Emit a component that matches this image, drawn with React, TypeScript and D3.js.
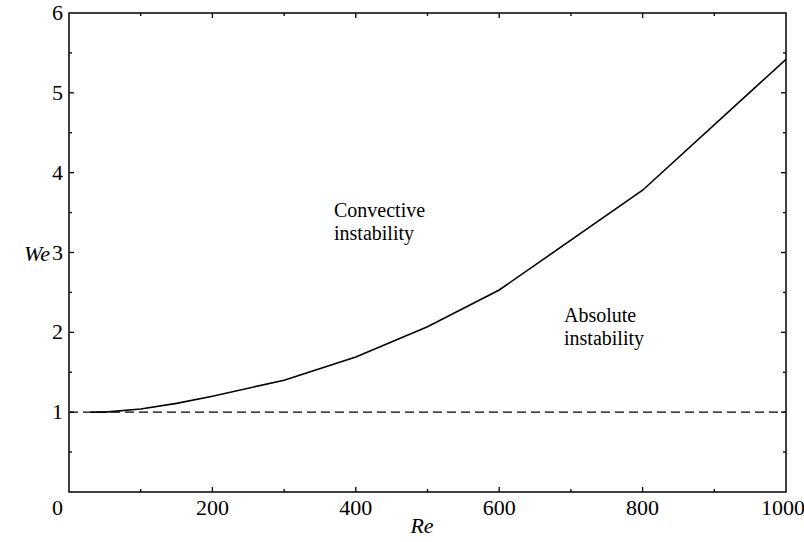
import React from "react";
import * as d3 from "d3";

const reValues = [30, 50, 100, 150, 200, 300, 400, 500, 600, 800, 1000];
const weValues = [1.0, 1.0, 1.04, 1.11, 1.2, 1.4, 1.69, 2.07, 2.53, 3.78, 5.42];
const xTickLabels = [0, 200, 400, 600, 800, 1000];
const yTickLabels = [1, 2, 3, 4, 5, 6];
const xMinorTicks = [100, 300, 500, 700, 900];
const yMinorTicks = [0.5, 1.5, 2.5, 3.5, 4.5, 5.5];
const referenceWe = 1;

export default function App() {
  const W = 804, H = 542;
  const left = 69, right = 786, top = 13, bottom = 492;
  const x = d3.scaleLinear().domain([0, 1000]).range([left, right]);
  const y = d3.scaleLinear().domain([0, 6]).range([bottom, top]);
  const line = d3.line<number>().x((_, i) => x(reValues[i])).y((d) => y(d));
  const major = 5, minor = 3;
  const xOffset = (v: number) => (v === 0 ? -11.5 : v === 1000 ? -3 : 0);
  const serif = "Liberation Serif";
  return (
    <svg width={W} height={H} style={{ position: "absolute", left: 0, top: 0, background: "#fff", fontFamily: serif }}>
      <rect x={left} y={top} width={right - left} height={bottom - top} fill="none" stroke="#000" strokeWidth={1.5} />
      {xTickLabels.concat(xMinorTicks).map((v) => {
        const len = xTickLabels.includes(v) ? major : minor;
        if (v === 0 || v === 1000) return null;
        return (
          <g key={"xt" + v}>
            <line x1={x(v)} x2={x(v)} y1={bottom} y2={bottom - len} stroke="#000" strokeWidth={1.3} />
            <line x1={x(v)} x2={x(v)} y1={top} y2={top + len} stroke="#000" strokeWidth={1.3} />
          </g>
        );
      })}
      {yTickLabels.concat(yMinorTicks).map((v) => {
        const len = yTickLabels.includes(v) ? major : minor;
        if (v === 6) return null;
        return (
          <g key={"yt" + v}>
            <line x1={left} x2={left + len} y1={y(v)} y2={y(v)} stroke="#000" strokeWidth={1.3} />
            <line x1={right} x2={right - len} y1={y(v)} y2={y(v)} stroke="#000" strokeWidth={1.3} />
          </g>
        );
      })}
      {xTickLabels.map((v) => (
        <text key={"xl" + v} x={x(v) + xOffset(v)} y={515} textAnchor="middle" style={{ fontFamily: serif, fontSize: "22px" }} fill="#000">
          {v}
        </text>
      ))}
      {yTickLabels.map((v) => (
        <text key={"yl" + v} x={63} y={y(v) + 7} textAnchor="end" style={{ fontFamily: serif, fontSize: "22px" }} fill="#000">
          {v}
        </text>
      ))}
      <line x1={x(0)} x2={x(1000)} y1={y(referenceWe)} y2={y(referenceWe)} stroke="#000" strokeWidth={1.3} strokeDasharray="9 5" />
      <path d={line(weValues) || ""} fill="none" stroke="#000" strokeWidth={1.6} />
      <text x={422} y={533} textAnchor="middle" style={{ fontFamily: serif, fontSize: "22px", fontStyle: "italic" }} fill="#000">Re</text>
      <text x={24} y={261} style={{ fontFamily: serif, fontSize: "22px", fontStyle: "italic" }} fill="#000">We</text>
      <text x={334} y={217} style={{ fontFamily: serif, fontSize: "20px" }} fill="#000">Convective</text>
      <text x={334} y={240} style={{ fontFamily: serif, fontSize: "20px" }} fill="#000">instability</text>
      <text x={564} y={322} style={{ fontFamily: serif, fontSize: "20px" }} fill="#000">Absolute</text>
      <text x={564} y={345} style={{ fontFamily: serif, fontSize: "20px" }} fill="#000">instability</text>
    </svg>
  );
}
